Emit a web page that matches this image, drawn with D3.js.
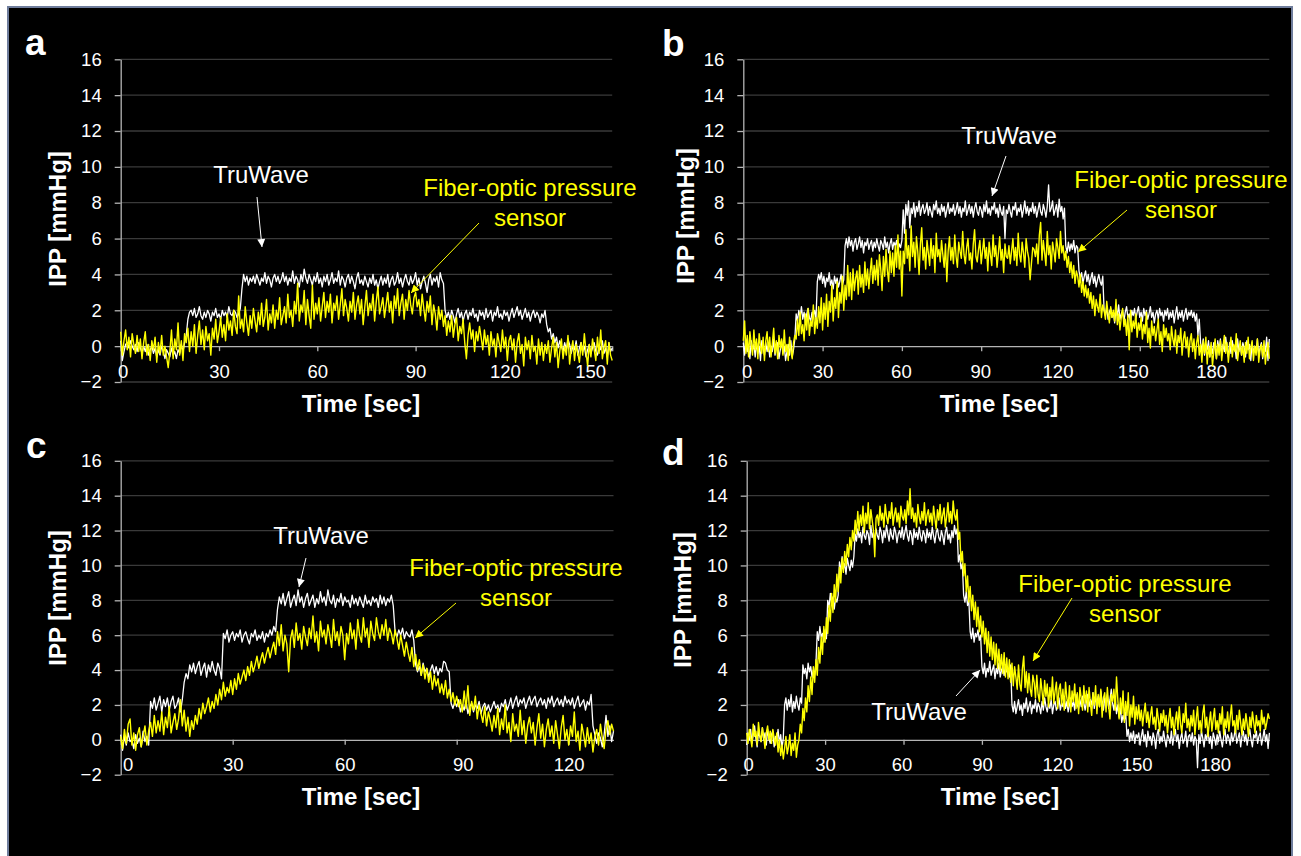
<!DOCTYPE html>
<head>
    <meta charset="utf-8">
    <script src="https://d3js.org/d3.v7.min.js"></script>
    <style>
        body {
            margin: 0;
            background: #fff;
        }
        svg {
            display: block;
        }
    </style>
</head>

<body>

<svg width="1301" height="856"></svg>

<script>

    //
    // data: IPP [mmHg] sampled every 0.5 sec
    //

    var yTicks = [-2, 0, 2, 4, 6, 8, 10, 12, 14, 16];
    var aTicks = [0, 30, 60, 90, 120, 150];
    var bTicks = [0, 30, 60, 90, 120, 150, 180];
    var cTicks = [0, 30, 60, 90, 120];
    var dTicks = [0, 30, 60, 90, 120, 150, 180];

    var aTru = [
        0.3,-0.8,-0.3,0.1,0.2,-0.1,0.3,0.0,-0.2,0.1,-0.3,0.2,-0.1,-0.4,0.0,-0.3,0.1,-0.5,-0.2,0.0,
        -0.4,-0.1,-0.6,-0.2,-0.5,0.0,-0.3,-0.7,-0.2,-0.4,-0.6,-0.1,-0.5,-0.3,-0.7,-0.2,-0.4,0.1,-0.3,0.2,
        0.6,1.5,1.9,2.0,1.7,2.1,1.6,1.8,2.2,1.7,1.5,1.9,1.6,2.0,1.8,1.4,1.9,1.7,2.1,1.6,
        1.8,1.5,2.0,1.7,1.9,1.6,2.2,1.8,1.7,2.0,1.9,1.6,1.8,2.1,3.2,4.0,3.6,3.9,3.4,3.8,
        3.6,3.9,3.5,4.0,3.7,3.4,3.8,3.6,4.1,3.5,3.9,3.7,3.3,3.8,4.0,3.6,3.9,3.5,3.7,4.1,
        3.6,3.9,3.4,3.8,3.6,4.2,3.5,3.9,3.7,3.3,4.0,3.6,4.3,3.8,3.5,4.0,3.7,3.4,3.9,3.6,
        4.1,3.5,3.8,3.3,3.9,3.6,4.0,3.4,3.7,4.1,3.5,3.8,3.6,4.2,3.4,3.9,3.7,3.3,3.8,4.0,
        3.5,3.9,3.6,3.2,3.8,4.1,3.5,3.7,3.4,3.9,3.6,3.3,3.8,3.5,4.0,3.4,3.7,3.2,3.6,3.9,
        3.4,3.8,3.5,4.0,3.3,3.7,3.9,3.4,3.6,4.1,3.5,3.8,3.3,3.7,4.0,3.6,3.4,3.9,3.5,3.7,
        4.1,3.4,3.8,3.2,3.6,3.9,3.5,3.0,3.7,4.0,3.4,3.8,3.6,3.9,3.3,4.1,3.7,3.5,2.0,1.6,
        1.9,1.5,2.0,1.7,1.3,1.8,2.1,1.6,1.9,1.4,1.8,2.0,1.5,1.9,1.7,2.1,1.6,1.8,1.4,2.0,
        1.7,1.9,1.5,2.1,1.6,1.8,2.0,1.4,1.9,1.7,2.2,1.6,1.8,1.5,2.0,1.7,1.9,1.4,1.8,2.1,
        1.6,1.9,2.2,1.7,2.0,1.5,1.8,2.1,1.6,1.9,1.4,1.8,2.0,1.6,1.9,1.7,1.3,1.8,1.6,2.0,
        1.2,0.8,1.0,0.4,0.7,0.2,0.5,-0.1,0.3,0.0,-0.3,0.2,-0.2,0.4,0.1,-0.4,0.0,-0.2,0.3,-0.5,
        -0.1,0.2,-0.3,0.0,-0.6,-0.2,0.1,-0.4,-0.1,0.2,-0.3,-0.5,0.0,-0.2,0.3,-0.4,-0.1,-0.6,0.2,-0.3,-0.1
    ];

    var aFiber = [
        0.8,-0.5,0.3,0.9,-0.2,0.5,-0.6,0.7,0.1,-0.4,0.6,-0.3,0.4,-0.7,0.2,0.8,-0.5,0.1,-0.8,0.3,
        -0.2,0.5,-0.9,0.2,-0.4,0.6,-0.5,0.0,-0.6,-1.2,-0.3,0.9,-0.7,0.4,-0.2,1.3,-0.5,0.3,-0.8,0.7,
        0.2,1.0,-0.3,0.8,0.0,1.2,-0.4,0.6,1.4,0.1,0.9,-0.2,1.1,0.3,0.7,-0.5,1.0,0.4,1.5,0.2,
        0.8,1.6,0.5,1.2,0.3,1.8,0.9,1.4,0.6,2.0,1.1,0.7,2.8,1.0,1.5,0.8,2.2,1.3,0.6,1.7,
        1.0,2.1,1.4,0.8,1.9,1.2,2.4,1.1,1.6,2.6,0.9,1.8,1.3,2.3,1.0,2.0,1.5,2.7,1.2,1.7,
        2.2,1.3,2.9,1.6,2.0,1.1,2.5,1.8,3.5,1.4,2.3,1.9,3.1,1.2,2.6,1.7,1.0,3.4,1.5,2.4,
        1.8,2.7,1.4,2.2,3.0,1.6,2.5,1.9,2.9,1.3,2.4,2.0,2.8,1.5,2.3,3.2,1.7,2.6,2.1,1.4,
        2.5,1.9,3.0,1.5,2.3,2.8,1.8,2.6,1.2,2.2,3.1,1.7,2.4,2.0,2.9,1.4,2.5,3.3,1.8,2.2,
        2.7,1.6,2.3,3.0,1.9,2.5,1.3,2.8,2.1,3.2,1.7,2.4,2.9,1.5,2.6,2.0,3.1,2.3,1.8,2.7,
        3.0,2.2,2.6,1.7,2.9,2.1,1.4,2.5,1.9,2.8,1.2,2.3,1.8,0.9,2.2,1.5,2.0,1.1,1.7,0.6,
        1.4,0.8,1.7,0.5,1.2,1.6,0.3,1.1,0.7,1.5,0.2,-0.7,0.6,1.3,0.4,0.9,-0.3,0.8,0.3,1.1,
        0.5,-0.2,0.9,0.1,0.6,-0.5,0.8,0.0,0.4,-0.6,0.7,0.2,-0.3,0.9,-0.1,0.5,-0.8,0.3,0.6,-0.2,
        0.4,-0.9,0.2,0.7,-0.4,0.1,-1.1,0.5,-0.2,0.3,-0.7,0.6,-0.3,0.0,-1.0,0.4,-0.5,0.2,-0.8,0.1,
        -0.4,0.3,-0.9,-0.1,0.5,-0.6,0.2,-1.2,-0.3,0.4,-0.7,0.0,-0.5,0.6,-1.0,-0.2,0.3,-0.8,0.1,-0.4,
        -0.9,0.2,-0.5,0.7,-0.3,-1.1,0.1,-0.6,0.4,-0.2,-0.8,0.5,-0.4,0.9,-0.7,-0.1,0.3,-1.0,0.2,-0.5,-0.8
    ];

    var bTru = [
        0.2,-0.5,0.4,-0.3,0.0,-0.7,0.3,-0.2,0.1,-0.6,0.2,-0.4,0.0,-0.8,0.3,-0.1,-0.5,0.2,-0.3,0.1,
        -0.6,0.0,-0.3,0.4,-0.5,-0.1,0.2,-0.7,-0.2,0.3,-0.4,0.0,-0.8,-0.3,0.1,-0.5,0.3,-0.6,-0.2,0.4,
        1.8,1.4,2.0,1.6,2.2,1.5,1.9,1.3,1.8,2.1,1.6,1.4,1.9,1.7,2.0,1.5,3.6,4.0,3.7,4.1,
        3.5,3.9,3.3,3.8,3.6,4.1,3.4,3.7,3.2,3.9,3.5,3.8,3.3,3.6,4.0,3.4,3.7,5.6,6.0,5.5,
        6.1,5.6,5.9,5.3,5.8,6.0,5.4,5.7,6.1,5.5,5.9,5.2,5.8,5.6,6.0,5.4,5.7,5.9,5.3,5.8,
        5.5,6.0,5.6,5.3,5.9,5.7,5.4,6.1,5.5,5.8,5.2,5.7,6.0,5.4,5.8,5.6,5.9,5.3,5.7,5.5,
        5.9,7.6,6.3,7.9,7.3,8.1,6.6,7.7,7.4,8.0,7.2,7.8,7.5,8.1,7.3,7.7,7.9,7.4,7.6,8.0,
        7.3,7.8,7.5,7.2,7.9,7.6,8.1,7.4,7.7,7.3,7.9,7.5,7.8,7.2,7.6,8.0,7.4,7.7,7.5,7.9,
        7.3,7.6,8.0,7.4,7.8,7.2,7.7,7.5,8.1,7.3,7.6,7.9,7.4,7.8,7.2,7.7,8.0,7.5,7.3,7.8,
        7.6,7.2,7.9,7.5,8.1,7.4,7.7,7.3,7.8,7.6,8.0,7.4,7.7,7.2,7.9,7.5,7.3,7.8,6.0,7.6,
        7.4,7.9,7.5,7.2,7.8,7.6,8.0,7.3,7.7,7.5,7.9,7.2,7.6,8.1,7.4,7.8,7.3,7.7,7.5,8.0,
        7.4,7.8,7.2,7.6,8.0,7.5,7.3,7.9,7.6,7.2,7.8,9.0,7.5,7.7,8.1,7.3,7.6,7.9,7.2,8.2,
        7.5,7.8,7.1,7.7,5.6,5.2,5.8,5.3,5.7,5.4,5.9,5.2,5.6,5.5,4.2,3.8,4.1,3.5,3.9,4.2,
        3.6,4.0,3.4,3.8,4.1,3.5,3.9,3.3,3.7,4.0,3.6,3.4,3.9,2.0,1.7,2.2,1.5,1.9,2.1,1.6,
        1.9,1.3,2.1,1.7,2.3,1.5,1.8,2.0,1.4,1.9,2.2,1.6,1.8,1.3,2.0,1.7,2.1,1.5,1.9,2.2,
        1.6,1.9,1.4,2.1,1.7,2.0,1.5,1.8,2.2,1.6,1.9,1.3,1.8,2.0,1.5,2.1,1.7,1.9,1.4,2.0,
        1.7,2.1,1.5,1.9,1.6,2.0,1.3,1.8,2.2,1.5,1.9,1.6,2.0,1.4,1.8,2.1,1.5,1.9,1.7,2.0,
        1.6,1.9,1.4,1.8,0.6,1.5,0.2,-0.3,0.4,-0.5,0.1,-0.2,0.3,-0.6,0.0,-0.4,0.2,-0.1,-0.7,0.3,
        -0.2,0.4,-0.5,0.1,-0.3,0.5,-0.1,-0.6,0.2,-0.4,0.3,-0.2,0.0,-0.7,0.4,-0.3,0.1,-0.5,0.2,-0.1,
        -0.6,0.3,-0.2,0.1,-0.8,0.2,-0.4,0.0,-0.3,0.4,-0.5,-0.1,0.2,-0.7,0.0,-0.3,0.5,-0.8,0.4
    ];

    var bFiber = [
        0.3,1.4,-0.4,0.6,-0.6,0.8,0.1,-0.5,0.9,-0.2,0.4,-0.7,0.7,0.0,-0.4,0.5,-0.8,0.3,0.8,-0.3,
        0.5,-0.6,0.2,1.0,-0.4,0.3,-0.7,0.6,-0.1,0.4,-0.5,0.9,-0.3,0.1,-0.8,0.5,-0.2,-0.7,0.2,0.6,
        0.4,1.5,0.6,1.9,0.7,1.2,0.3,1.8,0.9,2.1,0.6,1.4,1.1,2.3,0.7,1.6,1.0,2.2,1.3,2.7,
        0.9,2.4,1.5,2.9,1.1,2.5,1.9,3.4,1.4,2.7,2.1,3.6,1.6,3.0,2.4,3.9,2.0,3.4,2.6,4.5,
        2.8,4.1,2.6,4.3,3.1,3.8,4.2,2.9,4.5,3.3,4.0,3.0,4.7,3.4,4.3,3.2,4.1,4.9,3.5,4.5,
        3.7,4.8,3.4,5.1,4.3,3.1,5.0,3.9,5.4,4.2,3.6,5.3,4.1,5.2,3.9,5.6,4.4,6.2,4.3,5.3,
        2.8,5.3,4.6,6.5,4.9,5.6,4.2,6.7,5.0,5.8,4.4,6.1,5.3,4.0,5.7,6.6,4.8,5.5,4.3,5.9,
        5.2,4.5,6.0,4.9,5.6,4.1,6.3,5.0,5.4,4.7,5.9,5.1,4.4,5.7,3.6,5.3,6.1,4.8,5.5,4.6,
        6.2,5.0,4.4,5.8,5.3,4.9,6.4,5.1,4.6,5.5,6.0,4.8,5.2,4.3,5.7,6.5,5.0,4.7,5.4,5.9,
        4.6,5.3,6.0,4.9,5.5,4.2,5.8,5.1,4.5,6.2,5.0,5.6,4.4,5.2,6.1,4.8,5.4,4.1,5.7,5.0,
        4.9,5.6,4.6,5.3,6.0,4.8,5.5,4.5,6.3,5.1,4.7,5.8,5.2,4.4,6.0,5.3,4.9,3.7,4.6,5.5,
        5.4,5.0,5.7,4.6,6.2,6.9,4.8,5.9,5.2,4.5,6.4,5.1,5.6,4.3,5.8,5.3,4.7,6.0,5.5,4.9,
        6.4,5.2,5.6,4.8,5.3,4.4,5.0,4.1,4.7,3.8,4.5,3.5,4.2,3.9,3.3,4.0,3.0,3.6,2.8,3.4,
        2.7,3.2,2.4,3.0,2.1,2.8,1.7,2.6,2.2,1.9,2.9,1.6,2.3,2.0,1.5,2.5,1.8,1.3,2.2,1.6,
        2.0,1.4,2.6,1.2,1.8,0.9,1.6,2.1,1.1,1.5,0.6,1.7,-0.2,2.0,0.8,1.4,1.0,1.8,0.5,1.3,
        0.9,1.6,0.4,1.2,0.7,1.9,0.2,1.0,-0.1,1.4,0.6,1.1,0.3,0.9,1.5,0.1,0.8,-0.3,1.2,0.5,
        1.0,0.3,0.7,-0.2,1.1,0.4,0.0,0.9,-0.4,0.6,0.2,1.0,-0.5,0.4,0.8,-0.1,0.5,-0.6,0.3,0.7,
        -0.3,0.4,-0.7,0.2,0.6,-0.5,0.1,-0.9,0.3,-0.4,0.5,-1.0,0.0,-0.6,0.2,-1.1,-0.3,0.4,-0.7,0.1,
        -0.5,0.3,-0.8,0.0,0.6,-0.4,0.2,-0.9,-0.1,0.5,-0.6,0.1,-0.3,0.7,-0.8,-0.2,0.3,-0.5,0.0,-0.9,
        0.2,-0.4,0.5,-0.7,-0.1,0.3,-0.8,0.0,-0.5,0.4,-0.9,-0.2,0.1,-0.6,0.3,-1.0,-0.3,0.2,-0.7
    ];

    var cTru = [
        0.3,-0.6,0.2,-0.3,0.4,-0.1,0.0,-0.5,0.3,-0.2,0.1,-0.4,0.5,-0.1,0.2,-0.3,2.2,1.8,2.4,1.7,
        2.1,2.5,1.6,2.3,1.9,2.4,1.7,2.2,2.5,1.8,2.0,2.4,1.6,2.3,3.3,3.8,3.5,4.3,3.9,4.4,
        3.8,4.2,4.5,3.7,4.1,4.4,3.6,4.3,3.9,4.5,4.0,3.7,4.4,4.1,3.5,6.1,5.8,6.3,5.6,6.0,
        6.2,5.7,6.1,5.9,6.3,5.6,6.0,6.2,5.8,5.5,6.1,5.9,6.3,5.7,6.0,5.8,6.2,5.6,6.1,5.9,
        6.3,6.0,6.5,6.2,7.5,8.2,7.8,8.4,7.7,8.1,8.5,7.6,8.0,8.3,7.7,8.6,7.9,8.2,7.6,8.1,
        8.4,7.7,8.0,8.3,7.6,8.1,7.8,8.5,7.9,8.2,7.7,8.6,8.0,7.8,8.3,7.6,8.1,7.9,8.4,7.7,
        8.2,7.9,8.0,7.6,8.3,7.8,8.1,7.7,8.2,7.9,7.6,8.3,7.8,8.0,7.7,8.2,7.9,8.1,7.6,8.3,
        7.8,8.2,7.7,8.1,7.9,8.3,7.7,6.2,5.9,6.3,6.0,6.4,5.8,6.2,6.0,5.9,6.3,5.7,4.3,3.9,
        4.2,3.7,4.4,3.9,4.1,3.6,4.0,4.3,3.8,4.2,3.7,4.1,3.9,4.5,4.4,4.0,3.9,2.1,1.8,2.2,
        1.9,2.3,1.6,2.0,1.7,2.2,1.5,1.9,2.1,1.6,2.0,1.8,2.2,1.5,1.9,2.1,1.7,2.0,1.6,1.9,
        2.2,1.8,2.0,1.6,2.1,1.9,2.3,1.7,2.0,2.4,1.8,2.2,2.5,1.9,2.3,2.1,2.4,1.8,2.2,2.5,
        2.0,2.3,2.5,1.9,2.2,2.4,2.0,2.3,1.8,2.4,2.1,2.5,1.9,2.2,2.4,2.0,2.3,1.9,2.5,2.1,
        2.3,2.0,2.4,1.8,2.2,2.5,1.9,2.1,2.3,1.7,2.2,2.0,2.6,0.8,0.3,-0.2,0.4,0.1,-0.4,0.3,
        1.4,0.2,0.8,-0.1,0.5
    ];

    var cFiber = [
        0.2,-0.5,0.6,-0.2,0.9,1.2,-0.3,0.4,-0.6,0.3,0.7,-0.4,0.2,0.8,-0.3,0.5,1.0,0.2,1.4,0.4,
        1.1,0.5,1.6,0.3,1.3,0.7,1.9,0.4,1.0,1.5,0.6,1.2,2.3,0.8,1.7,0.5,1.3,0.2,1.1,0.6,
        1.4,0.9,1.8,1.2,2.1,1.5,1.9,2.4,1.6,2.2,1.8,2.6,2.0,2.9,2.3,3.3,2.5,3.0,2.7,3.4,
        2.6,3.5,2.9,3.8,3.2,3.6,4.0,3.4,4.2,3.7,4.5,3.9,4.3,4.8,4.1,4.6,5.0,4.4,4.9,5.3,
        4.7,5.2,5.6,4.9,6.2,5.4,6.6,5.1,6.0,5.5,3.9,5.8,6.3,5.3,6.7,5.7,6.1,5.2,6.5,5.9,
        5.4,6.4,5.8,7.1,5.6,6.2,5.1,6.8,5.9,6.3,5.5,6.6,6.0,5.3,6.9,5.7,6.2,5.4,6.5,6.0,
        4.6,6.1,5.5,6.7,5.8,6.3,5.2,6.9,6.0,5.6,7.0,5.9,6.4,5.3,6.8,6.1,5.7,7.0,6.2,5.8,
        6.6,6.0,6.9,5.7,6.4,6.1,5.5,6.3,5.8,5.2,6.0,5.4,4.8,5.6,5.0,4.5,5.3,4.2,4.9,4.0,
        4.6,3.7,4.3,3.5,4.1,3.3,3.9,2.9,3.7,3.1,3.5,2.7,3.2,2.6,3.4,2.4,2.9,2.2,2.7,2.0,
        2.5,1.9,2.3,1.6,2.8,1.8,3.1,1.4,2.2,1.7,2.5,1.2,2.0,1.5,1.0,1.9,0.8,1.6,1.1,0.5,
        1.4,0.7,1.8,0.3,1.2,0.6,2.0,0.4,1.0,-0.1,1.5,0.5,0.9,0.2,1.7,0.3,1.1,-0.2,0.8,1.3,
        0.4,1.0,-0.3,0.7,1.5,0.1,0.9,-0.4,0.6,1.2,0.2,0.8,-0.2,1.1,0.3,-0.5,0.7,1.4,0.0,0.6,
        -0.3,0.8,0.2,1.6,-0.1,0.5,-0.6,0.9,0.3,-0.4,0.7,-0.2,0.4,-0.7,0.2,0.6,-0.3,0.9,0.1,-0.5,
        0.6,1.1,0.3,0.9,0.5
    ];

    var dTru = [
        -0.3,0.4,0.0,0.6,-0.2,0.3,0.8,0.1,-0.4,0.5,0.2,-0.1,0.7,0.0,0.4,-0.3,0.6,0.1,-0.2,0.3,
        0.5,-0.4,0.2,0.0,0.6,-0.2,0.3,-0.5,0.1,2.0,2.4,1.7,2.3,1.9,2.6,1.6,2.2,1.8,2.5,2.0,
        1.7,2.4,2.1,4.3,3.8,4.1,3.5,4.4,3.9,4.2,3.6,4.0,3.7,4.4,6.2,5.7,6.5,5.9,6.1,5.6,
        6.3,5.8,8.0,7.6,8.4,7.8,8.2,7.5,8.1,7.9,8.3,10.2,9.6,10.5,9.8,10.1,9.5,10.4,10.0,9.7,
        10.3,9.9,10.5,11.8,11.4,12.1,11.6,11.9,11.3,12.2,11.7,11.5,12.0,11.8,11.2,12.3,11.6,11.9,11.4,12.1,
        11.7,11.5,12.2,11.9,11.3,12.0,11.6,12.3,11.8,11.4,12.1,11.7,11.5,12.2,11.9,11.3,11.8,12.0,11.6,12.2,
        11.5,11.9,12.3,11.7,11.4,12.0,11.8,11.2,12.1,11.6,11.9,11.5,12.2,11.7,11.4,12.0,11.8,11.3,12.1,11.6,
        11.9,11.5,12.2,11.7,11.3,11.9,12.1,11.6,11.4,12.0,11.7,11.2,11.9,12.2,11.5,11.8,11.3,12.0,11.6,12.3,
        11.8,12.1,10.2,10.6,9.8,10.1,8.3,7.9,8.5,7.7,8.0,6.2,5.8,6.4,5.6,6.1,5.9,6.3,5.7,6.0,
        4.2,3.8,4.4,3.6,4.1,3.9,4.5,3.7,4.0,4.3,3.5,4.1,3.8,4.4,3.6,4.0,4.2,3.7,4.3,3.9,
        4.1,3.6,4.3,2.0,1.6,2.2,1.5,1.9,2.3,1.7,2.0,1.4,2.1,1.8,2.4,1.6,1.9,2.2,1.5,2.0,
        1.8,2.3,1.6,2.1,1.9,1.5,2.2,1.7,2.4,1.9,1.6,2.1,1.8,2.3,1.5,2.0,2.2,1.7,1.9,2.4,
        1.7,2.1,1.9,2.5,1.8,2.2,1.6,2.0,2.4,1.9,2.2,1.7,2.6,2.0,1.8,2.3,1.9,2.5,2.1,1.7,
        2.2,2.6,1.9,2.3,2.0,2.7,1.8,2.4,2.1,2.5,1.9,2.8,2.2,1.7,2.4,2.0,2.6,1.8,2.3,2.9,
        2.1,1.7,2.4,1.5,2.0,1.3,1.8,1.0,1.4,1.1,1.6,0.2,0.6,-0.1,0.4,0.0,0.5,-0.2,0.3,0.1,
        0.4,-0.3,0.2,0.6,-0.1,0.3,-0.4,0.5,0.0,0.2,-0.3,0.4,0.1,-0.5,0.3,0.6,-0.2,0.2,-0.1,0.5,
        0.0,-0.4,0.3,0.1,-0.2,0.5,-0.3,0.2,0.6,-0.1,0.3,-0.5,0.1,0.4,-0.2,0.0,0.5,-0.4,0.2,0.3,
        -0.1,0.4,-0.3,0.2,0.0,-1.6,0.3,-0.2,0.5,0.1,-0.4,0.3,0.0,0.6,-0.2,0.2,-0.5,0.4,0.1,-0.3,
        0.3,-0.1,0.5,0.0,-0.4,0.2,0.6,-0.2,0.3,0.1,-0.3,0.4,-0.1,0.2,0.7,-0.2,0.1,0.4,-0.4,0.2,
        0.5,-0.1,0.3,-0.3,0.2,0.6,0.0,-0.4,0.3,0.1,0.5,-0.2,0.2,0.4,-0.3,0.1,0.6,-0.1,0.3,-0.5,0.4
    ];

    var dFiber = [
        0.4,-0.2,0.6,0.1,-0.4,0.9,0.2,0.5,-0.3,1.0,0.3,-0.1,0.7,0.2,-0.5,0.4,0.8,0.0,0.5,-0.2,
        0.6,0.1,-0.3,0.4,-0.7,0.0,-0.9,-0.3,-1.1,-0.5,0.2,-0.8,-0.4,0.3,-0.9,-0.2,-0.6,0.4,-1.0,-0.3,
        0.0,0.9,0.4,1.8,1.1,2.4,1.6,3.1,2.2,3.6,2.6,4.2,3.3,4.6,3.7,5.3,4.4,5.9,4.9,6.5,
        5.6,7.0,6.1,7.7,6.8,8.4,7.3,8.9,7.9,9.5,8.5,9.9,9.0,10.4,9.6,10.8,10.0,11.2,10.5,11.6,
        10.9,12.0,11.4,12.6,11.8,13.1,12.0,12.9,12.3,13.4,11.9,13.0,12.4,13.6,12.1,13.2,12.6,12.0,10.5,12.7,
        12.9,12.3,13.4,12.6,13.0,12.2,13.5,12.8,12.4,13.1,12.7,13.6,12.3,12.9,13.3,12.5,13.0,12.2,13.4,12.8,
        12.6,13.2,12.4,13.7,12.9,14.4,12.7,13.3,12.5,13.0,12.2,13.5,12.8,12.4,13.1,12.6,13.6,12.3,12.9,13.2,
        12.5,13.0,12.3,13.4,12.7,12.1,13.2,12.6,13.5,12.4,12.9,13.3,12.2,12.8,13.6,12.5,13.1,12.4,13.7,12.9,
        12.6,13.2,11.5,11.9,10.2,10.8,9.4,10.1,8.5,9.4,7.9,8.8,7.4,8.3,6.9,7.9,6.5,7.6,6.2,7.1,
        5.9,6.8,5.5,6.4,5.0,6.2,4.8,5.9,4.6,5.6,4.3,5.5,4.1,5.2,4.0,4.9,3.8,5.0,3.6,4.7,
        3.5,4.6,3.3,4.4,3.1,4.2,3.6,2.9,4.3,3.2,2.8,4.1,4.8,3.0,3.9,2.7,3.8,2.9,2.5,3.7,
        3.3,2.4,3.7,2.6,2.2,3.5,2.8,2.0,3.4,2.5,3.2,1.9,3.0,2.3,3.6,2.1,2.8,3.3,1.8,2.9,
        3.2,2.0,2.9,1.7,3.3,2.4,1.9,3.1,1.6,2.8,2.2,3.2,1.8,2.7,1.5,3.0,2.4,1.7,3.1,2.1,
        2.8,1.6,3.0,2.1,1.4,2.7,2.0,3.1,1.5,2.6,1.9,2.9,1.3,2.4,2.7,1.6,3.0,1.9,1.2,2.6,
        2.2,2.9,1.7,3.6,2.3,1.2,2.4,1.5,2.8,1.0,2.2,1.4,2.7,0.8,2.0,1.3,2.5,0.9,1.9,1.2,
        2.0,1.1,1.7,0.8,1.5,2.1,1.0,1.6,0.7,1.4,1.9,0.9,1.3,0.6,1.8,1.2,0.5,1.5,1.0,1.7,
        0.8,1.4,0.4,1.2,1.8,0.7,1.3,0.3,1.1,1.6,0.6,1.9,0.9,0.4,1.5,1.0,2.1,0.7,1.2,0.5,
        1.4,0.8,1.7,0.3,1.2,1.9,0.6,1.1,0.4,1.5,2.0,0.7,1.3,0.2,1.0,1.6,0.5,1.2,1.8,0.6,
        1.1,0.4,1.5,0.9,1.9,0.3,1.2,0.7,1.6,0.5,1.3,2.0,0.8,1.1,0.4,1.4,0.6,1.7,1.0,0.3,
        1.2,0.6,1.5,0.9,0.2,1.3,0.7,1.6,1.0,0.4,1.4,0.8,1.1,0.5,1.7,0.9,1.3,0.6,1.0,1.5,1.2
    ];

    //
    // layout of the four panels
    //

    var font = "'Liberation Sans', Arial, sans-serif";
    var white = "#ffffff", yellow = "#ffff00";

    var panels = [
        {letter: "a", tru: aTru, fiber: aFiber, step: 0.5, xMax: 150, xTicks: aTicks,
         left: 120.7, right: 612.2, top: 59.3, bottom: 382,
         letterPos: [25, 55], yTitle: [57.5, 219], xTitle: [361, 412],
         labelDx: [2, 0, 0, 0, -9, -22],
         notes: [
             {lines: ["TruWave"], color: white, x: 261, y: 183},
             {lines: ["Fiber-optic pressure", "sensor"], color: yellow, x: 530, y: 196}
         ],
         arrows: [
             {from: [257, 197], to: [262, 247], color: white},
             {from: [479, 223], to: [411, 293], color: yellow}
         ]},
        {letter: "b", tru: bTru, fiber: bFiber, step: 0.5, xMax: 199, xTicks: bTicks,
         left: 743.3, right: 1269.3, top: 59.3, bottom: 382,
         letterPos: [662, 56], yTitle: [686, 216], xTitle: [999, 412],
         labelDx: [3.4, 0, -1, -1, -3, -7, -8],
         notes: [
             {lines: ["TruWave"], color: white, x: 1009, y: 144},
             {lines: ["Fiber-optic pressure", "sensor"], color: yellow, x: 1181, y: 188}
         ],
         arrows: [
             {from: [1006, 156], to: [992, 196], color: white},
             {from: [1127, 210], to: [1078, 252], color: yellow}
         ]},
        {letter: "c", tru: cTru, fiber: cFiber, step: 0.5, xMax: 132, xTicks: cTicks,
         left: 120.7, right: 613.5, top: 460.8, bottom: 774.7,
         letterPos: [26, 458], yTitle: [58, 598], xTitle: [361, 805],
         labelDx: [7, 0, 0, 6, 0],
         notes: [
             {lines: ["TruWave"], color: white, x: 321, y: 544},
             {lines: ["Fiber-optic pressure", "sensor"], color: yellow, x: 516, y: 576}
         ],
         arrows: [
             {from: [306, 558], to: [299, 587], color: white},
             {from: [456, 603], to: [415, 638], color: yellow}
         ]},
        {letter: "d", tru: dTru, fiber: dFiber, step: 0.5, xMax: 200, xTicks: dTicks,
         left: 746.7, right: 1269.4, top: 460.8, bottom: 774.7,
         letterPos: [662, 465], yTitle: [683, 600], xTitle: [1000, 805],
         labelDx: [1.5, 0, -2, 0, -3, -2, -2],
         notes: [
             {lines: ["Fiber-optic pressure", "sensor"], color: yellow, x: 1125, y: 592},
             {lines: ["TruWave"], color: white, x: 919, y: 720}
         ],
         arrows: [
             {from: [1072, 598], to: [1033, 661], color: yellow},
             {from: [956, 696], to: [980, 670], color: white}
         ]}
    ];

    //
    // frame and arrow heads
    //

    var svg = d3.select("svg");

    svg.append("rect")
        .attr("x", 8).attr("y", 7)
        .attr("width", 1284).attr("height", 870)
        .attr("fill", "#000")
        .attr("stroke", "#6f7d9c")
        .attr("stroke-width", 2);

    var defs = svg.append("defs");
    [["headWhite", white], ["headYellow", yellow]].forEach(function(m) {
        defs.append("marker")
            .attr("id", m[0])
            .attr("viewBox", "0 0 10 10")
            .attr("refX", 10).attr("refY", 5)
            .attr("markerUnits", "userSpaceOnUse")
            .attr("markerWidth", 10).attr("markerHeight", 8)
            .attr("orient", "auto")
            .append("path")
            .attr("d", "M0,0L10,5L0,10z")
            .attr("fill", m[1]);
    });

    panels.forEach(draw);

    function draw(p) {

        var x = d3.scaleLinear().domain([0, p.xMax]).range([p.left, p.right]);
        var y = d3.scaleLinear().domain([-2, 16]).range([p.bottom, p.top]);

        var g = svg.append("g");

        // gridlines
        g.selectAll(".grid")
            .data(yTicks.filter(d => d !== 0))
            .enter().append("line")
            .attr("x1", p.left).attr("x2", p.right)
            .attr("y1", d => y(d)).attr("y2", d => y(d))
            .attr("stroke", "#3a3a3a")
            .attr("stroke-width", 1.3);

        // axes
        var yAxis = g.append("g")
            .attr("transform", "translate(" + p.left + ",0)")
            .call(d3.axisLeft(y).tickValues(yTicks).tickSize(6).tickSizeOuter(0).tickPadding(13));

        var xAxis = g.append("g")
            .attr("transform", "translate(0," + y(0) + ")")
            .call(d3.axisBottom(x).tickValues(p.xTicks).tickSize(5).tickSizeOuter(0).tickPadding(13.5));

        [yAxis, xAxis].forEach(function(a) {
            a.attr("font-size", 18.5).attr("font-family", font);
            a.select(".domain").attr("stroke", "#b4b4b4").attr("stroke-width", 1.3);
            a.selectAll(".tick line").attr("stroke", "#b4b4b4").attr("stroke-width", 1.3);
            a.selectAll(".tick text").attr("fill", white);
        });

        xAxis.selectAll(".tick text").attr("dx", (d, i) => p.labelDx[i] || 0);

        // traces
        var line = d3.line()
            .x((d, i) => x(i * p.step))
            .y(d => y(d));

        g.append("path")
            .datum(p.tru)
            .attr("d", line)
            .attr("fill", "none")
            .attr("stroke", white)
            .attr("stroke-width", 1.3)
            .attr("stroke-linejoin", "round");

        g.append("path")
            .datum(p.fiber)
            .attr("d", line)
            .attr("fill", "none")
            .attr("stroke", yellow)
            .attr("stroke-width", 1.4)
            .attr("stroke-linejoin", "round");

        // titles
        g.append("text")
            .attr("x", p.letterPos[0]).attr("y", p.letterPos[1])
            .attr("font-family", font).attr("font-size", 37).attr("font-weight", "bold")
            .attr("fill", white)
            .text(p.letter);

        g.append("text")
            .attr("transform", "translate(" + p.yTitle[0] + "," + p.yTitle[1] + ") rotate(-90)")
            .attr("text-anchor", "middle").attr("dy", "0.35em")
            .attr("font-family", font).attr("font-size", 24).attr("font-weight", "bold")
            .attr("fill", white)
            .text("IPP [mmHg]");

        g.append("text")
            .attr("x", p.xTitle[0]).attr("y", p.xTitle[1])
            .attr("text-anchor", "middle")
            .attr("font-family", font).attr("font-size", 24).attr("font-weight", "bold")
            .attr("fill", white)
            .text("Time [sec]");

        // annotations
        p.notes.forEach(function(n) {
            var t = g.append("text")
                .attr("text-anchor", "middle")
                .attr("font-family", font).attr("font-size", 24)
                .attr("fill", n.color);
            n.lines.forEach(function(s, i) {
                t.append("tspan").attr("x", n.x).attr("y", n.y + i * 30).text(s);
            });
        });

        p.arrows.forEach(function(a) {
            g.append("line")
                .attr("x1", a.from[0]).attr("y1", a.from[1])
                .attr("x2", a.to[0]).attr("y2", a.to[1])
                .attr("stroke", a.color)
                .attr("stroke-width", 1)
                .attr("marker-end", "url(#" + (a.color === white ? "headWhite" : "headYellow") + ")");
        });
    }

</script>
</body>
